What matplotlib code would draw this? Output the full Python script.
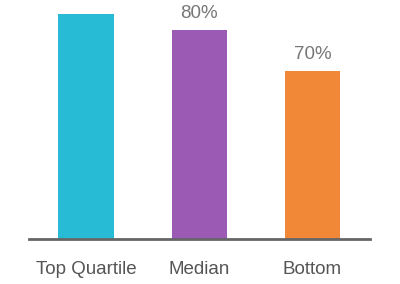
import matplotlib.pyplot as plt

categories = ['Top Quartile', 'Median', 'Bottom']
values = [84, 80, 70]
labels = ['', '80%', '70%']
colors = ['#27BBD6', '#9B5BB4', '#F08838']

plt.rcParams['font.family'] = ['Liberation Sans', 'DejaVu Sans']

fig = plt.figure(figsize=(4, 2.84), dpi=100)
ax = fig.add_axes([0.0725, 0.158, 0.8525, 0.842])
x = range(len(categories))
ax.bar(x, values, width=0.49, color=colors)
for i, v in enumerate(values):
    if labels[i]:
        ax.annotate(labels[i], (i, v), xytext=(0, 6), textcoords='offset points',
                    ha='center', va='bottom', fontsize=13.5, color='#777777')

ax.set_xlim(-0.505, 2.51)
ax.set_ylim(29, 87.3)
ax.set_xticks(list(x))
ax.set_xticklabels(categories, fontsize=13.5, color='#555555')
ax.tick_params(axis='x', length=0, pad=16)
ax.set_yticks([])
for s in ['top', 'right', 'left']:
    ax.spines[s].set_visible(False)
ax.spines['bottom'].set_color('#666666')
ax.spines['bottom'].set_linewidth(2)

fig.savefig('out.png', dpi=100)
